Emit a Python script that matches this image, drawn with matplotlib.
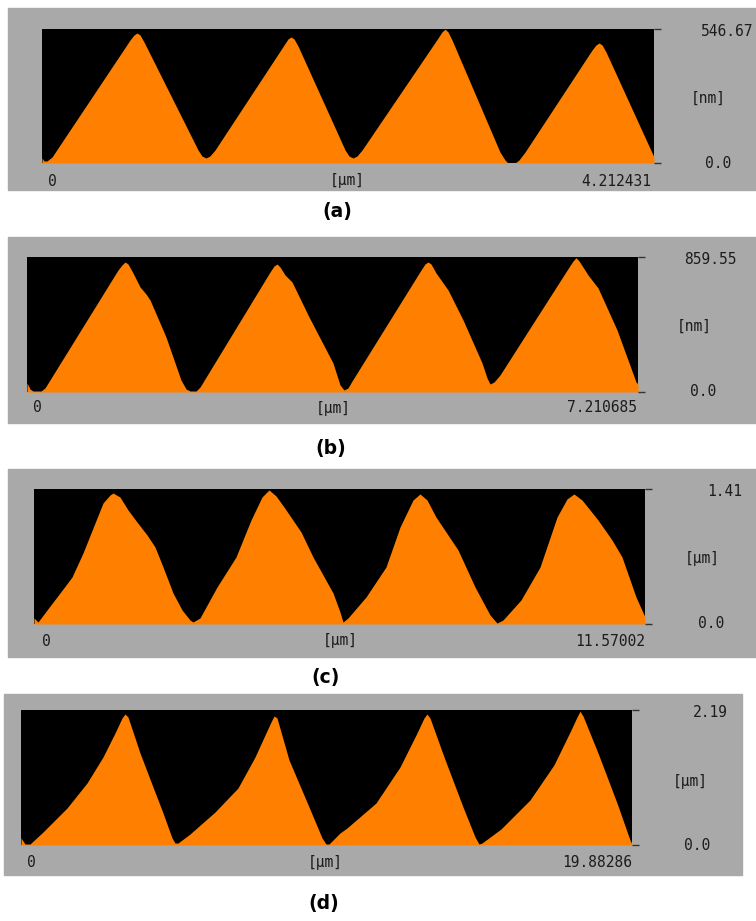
import matplotlib.pyplot as plt
from matplotlib.patches import Rectangle

# ---- profile data (x in um, height in nm or um) ----
a_x = [0.000, 0.014, 0.034, 0.069, 0.606, 0.633, 0.654, 0.675, 0.702, 1.074, 1.101, 1.129, 1.156, 1.191,
       1.666, 1.693, 1.714, 1.735, 1.762, 2.086, 2.113, 2.141, 2.168, 2.203, 2.726, 2.753, 2.774, 2.795,
       2.822, 3.152, 3.187, 3.207, 3.256, 3.283, 3.325, 3.786, 3.813, 3.834, 3.855, 3.882, 4.212]
a_y = [20.4, 8.2, 8.2, 24.5, 501.8, 522.2, 530.3, 522.2, 493.6, 53.0, 28.6, 20.4, 28.6, 53.0,
       481.4, 505.9, 514.0, 505.9, 477.3, 53.0, 28.6, 20.4, 28.6, 53.0, 510.0, 534.4, 546.0, 534.4,
       501.8, 44.9, 12.2, 0.0, 0.0, 12.2, 44.9, 461.0, 481.4, 489.6, 481.4, 452.8, 24.5]

b_x = [0.000, 0.035, 0.071, 0.165, 0.212, 1.074, 1.121, 1.157, 1.192, 1.251, 1.334, 1.404, 1.452,
       1.640, 1.817, 1.877, 1.924, 1.995, 2.042, 2.868, 2.915, 2.951, 2.986, 3.045, 3.128, 3.328,
       3.611, 3.694, 3.741, 3.788, 3.836, 4.650, 4.697, 4.733, 4.768, 4.827, 4.969, 5.146, 5.370,
       5.429, 5.464, 5.512, 5.582, 6.397, 6.444, 6.479, 6.515, 6.621, 6.739, 6.963, 7.187, 7.211]
b_y = [57.3, 19.1, 6.4, 6.4, 25.5, 776.8, 808.6, 827.7, 815.0, 757.7, 668.5, 624.0, 585.8,
       350.2, 76.4, 19.1, 6.4, 6.4, 31.8, 764.0, 802.2, 815.0, 795.9, 744.9, 700.4, 477.5,
       184.6, 44.6, 12.7, 25.5, 70.0, 776.8, 815.0, 827.7, 815.0, 757.7, 649.4, 458.4, 184.6,
       89.1, 50.9, 63.7, 108.2, 795.9, 834.1, 855.0, 834.1, 744.9, 662.2, 394.8, 63.7, 50.9]

c_x = [0.000, 0.076, 0.246, 0.492, 0.720, 0.928, 1.155, 1.307, 1.439, 1.496, 1.628, 1.780, 1.950,
       2.140, 2.291, 2.443, 2.632, 2.803, 2.954, 3.011, 3.143, 3.465, 3.825, 4.109, 4.317, 4.450,
       4.583, 4.734, 5.056, 5.283, 5.662, 5.794, 5.851, 5.946, 6.287, 6.665, 6.931, 7.177, 7.309,
       7.442, 7.612, 8.029, 8.351, 8.635, 8.767, 8.881, 9.222, 9.582, 9.904, 10.093, 10.225,
       10.377, 10.680, 10.945, 11.134, 11.399, 11.570]
c_y = [0.063, 0.021, 0.146, 0.324, 0.491, 0.742, 1.055, 1.264, 1.347, 1.368, 1.326, 1.191, 1.065,
       0.930, 0.804, 0.595, 0.324, 0.146, 0.042, 0.021, 0.063, 0.386, 0.700, 1.086, 1.326, 1.400,
       1.337, 1.222, 0.961, 0.700, 0.324, 0.125, 0.021, 0.063, 0.282, 0.595, 1.013, 1.295, 1.358,
       1.295, 1.117, 0.773, 0.386, 0.094, 0.010, 0.042, 0.251, 0.595, 1.117, 1.306, 1.358,
       1.295, 1.086, 0.877, 0.700, 0.282, 0.073]

d_x = [0.000, 0.130, 0.293, 0.716, 1.497, 2.148, 2.668, 3.059, 3.287, 3.384, 3.482, 3.872, 4.295,
       4.621, 4.914, 5.011, 5.109, 5.499, 6.313, 7.061, 7.615, 7.940, 8.135, 8.233, 8.330, 8.721,
       9.372, 9.795, 9.925, 10.023, 10.381, 10.608, 11.552, 12.333, 12.886, 13.114, 13.212, 13.309,
       13.765, 14.383, 14.774, 14.904, 15.001, 15.620, 16.563, 17.344, 17.898, 18.093, 18.190,
       18.288, 18.776, 19.394, 19.817, 19.883]
d_y = [0.114, 0.016, 0.016, 0.211, 0.600, 1.006, 1.428, 1.817, 2.060, 2.125, 2.076, 1.492, 0.941,
       0.519, 0.114, 0.032, 0.032, 0.178, 0.535, 0.925, 1.428, 1.784, 1.995, 2.093, 2.060, 1.379,
       0.616, 0.114, 0.016, 0.016, 0.195, 0.276, 0.681, 1.265, 1.817, 2.060, 2.125, 2.060,
       1.428, 0.616, 0.130, 0.016, 0.032, 0.260, 0.730, 1.300, 1.866, 2.076, 2.170,
       2.093, 1.492, 0.681, 0.081, 0.016]

x_max = [4.212431, 7.210685, 11.57002, 19.88286]
y_max = [546.67, 859.55, 1.41, 2.19]
top_labels = ["546.67", "859.55", "1.41", "2.19"]
end_labels = ["4.212431", "7.210685", "11.57002", "19.88286"]
z_units = ["[nm]", "[nm]", "[\u03bcm]", "[\u03bcm]"]
captions = ["(a)", "(b)", "(c)", "(d)"]
profiles = [(a_x, a_y), (b_x, b_y), (c_x, c_y), (d_x, d_y)]

# ---- layout in pixels ----
W, H = 756, 921
boxes = [(8, 8, 756, 190), (8, 237, 756, 423), (8, 469, 756, 657), (4, 694, 742, 875)]
plots = [(42, 29, 654, 163), (27, 257, 638, 392), (34, 489, 645, 624), (21, 710, 632, 845)]
top_pos = [(753, 31), (737, 259), (742, 491), (728, 712)]
unit_pos = [(708, 98), (694, 326), (702, 558), (690, 781)]
zero_pos = [(718, 163), (703, 392), (711, 623), (697, 845)]
bottom_y = [181, 408, 641, 862]
zero_x = [48, 33, 42, 27]
xunit_x = [347, 333, 340, 325]
end_x = [651, 637, 645, 632]
cap_pos = [(337, 212), (331, 448), (326, 677), (324, 903)]

GRAY = "#a9a9a9"
ORANGE = "#ff8000"
TXT = "#1c1c1c"
lab_font = dict(family="DejaVu Sans Mono", size=10.5, color=TXT)


def fx(x):
    return x / W


def fy(y):
    return 1 - y / H


fig = plt.figure(figsize=(W / 100, H / 100), dpi=100)
fig.patch.set_facecolor("white")

for i in range(4):
    x0, y0, x1, y1 = boxes[i]
    fig.add_artist(Rectangle((fx(x0), fy(y1)), fx(x1 - x0), (y1 - y0) / H,
                             transform=fig.transFigure, color=GRAY, zorder=0))

    px0, py0, px1, py1 = plots[i]
    ax = fig.add_axes([fx(px0), fy(py1), fx(px1 - px0), (py1 - py0) / H])
    ax.set_facecolor("black")
    xs, ys = profiles[i]
    ax.fill_between(xs, ys, 0, color=ORANGE, lw=0)
    ax.set_xlim(0, x_max[i])
    ax.set_ylim(0, y_max[i])
    for s in ax.spines.values():
        s.set_visible(False)
    ax.set_xticks([])
    ax.yaxis.tick_right()
    ax.set_yticks([0, y_max[i]])
    ax.tick_params(axis="y", length=5, width=1, colors="#333333", labelright=False)

    # right side labels
    fig.text(fx(top_pos[i][0]), fy(top_pos[i][1]), top_labels[i], ha="right", va="center", **lab_font)
    fig.text(fx(unit_pos[i][0]), fy(unit_pos[i][1]), z_units[i], ha="center", va="center", **lab_font)
    fig.text(fx(zero_pos[i][0]), fy(zero_pos[i][1]), "0.0", ha="center", va="center", **lab_font)
    # bottom labels
    fig.text(fx(zero_x[i]), fy(bottom_y[i]), "0", ha="left", va="center", **lab_font)
    fig.text(fx(xunit_x[i]), fy(bottom_y[i]), "[\u03bcm]", ha="center", va="center", **lab_font)
    fig.text(fx(end_x[i]), fy(bottom_y[i]), end_labels[i], ha="right", va="center", **lab_font)
    # caption
    fig.text(fx(cap_pos[i][0]), fy(cap_pos[i][1]), captions[i], ha="center", va="center",
             family="DejaVu Sans", weight="bold", size=13.5, color="black")

fig.savefig("out.png", dpi=100)
